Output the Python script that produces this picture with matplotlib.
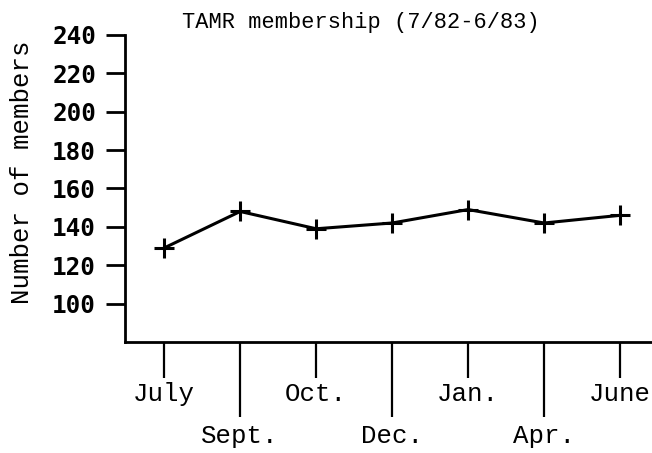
import matplotlib.pyplot as plt

months_top = ['July', 'Oct.', 'Jan.', 'June']
months_bottom = ['Sept.', 'Dec.', 'Apr.']
months = ['July', 'Sept.', 'Oct.', 'Dec.', 'Jan.', 'Apr.', 'June']
members = [129, 148, 139, 142, 149, 142, 146]
y_ticks = [100, 120, 140, 160, 180, 200, 220, 240]

mono = 'Liberation Mono'

fig = plt.figure(figsize=(6.52, 4.53), dpi=100)
ax = fig.add_axes([0.192, 0.245, 0.808, 0.678])

x = list(range(len(months)))
ax.plot(x, members, color='black', lw=2.2, marker='+', ms=14, mew=2.2)

ax.set_xlim(-0.513, 6.42)
ax.set_ylim(80, 240)

for s in ['top', 'right']:
    ax.spines[s].set_visible(False)
for s in ['left', 'bottom']:
    ax.spines[s].set_linewidth(2.0)

# short ticks for every other month, long ticks in between
ax.set_xticks(x[0::2])
ax.set_xticklabels(months_top, fontfamily=mono, fontsize=18.5)
ax.set_xticks(x[1::2], minor=True)
ax.set_xticklabels(months_bottom, minor=True, fontfamily=mono, fontsize=18.5)
ax.tick_params(axis='x', which='major', length=26, width=1.6, pad=3, direction='out')
ax.tick_params(axis='x', which='minor', length=54, width=1.6, pad=5, direction='out')

ax.set_yticks(y_ticks)
ax.set_yticklabels([str(v) for v in y_ticks], fontfamily='DejaVu Sans Mono',
                   fontsize=17.5, fontweight='bold')
ax.tick_params(axis='y', length=14, width=2.0, pad=7)

fig.text(0.033, 0.62, 'Number of members', rotation=90, ha='center', va='center',
         fontfamily=mono, fontsize=18.5)
fig.text(0.554, 0.951, 'TAMR membership (7/82-6/83)', ha='center', va='center',
         fontfamily=mono, fontsize=15.8)

fig.savefig('out.png', dpi=100)
